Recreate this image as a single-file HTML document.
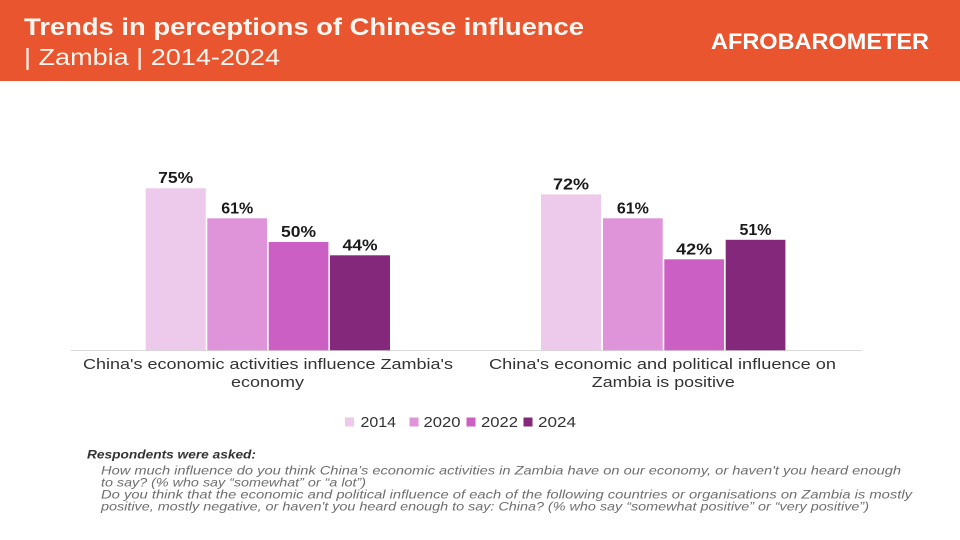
<!DOCTYPE html>
<html>
<head>
<meta charset="utf-8">
<style>
html,body{margin:0;padding:0;background:#fff;}
svg{display:block;}
text{font-family:"Liberation Sans",sans-serif;}
</style>
</head>
<body>
<svg width="960" height="540" viewBox="0 0 960 540" xmlns="http://www.w3.org/2000/svg">
  <rect x="0" y="0" width="960" height="540" fill="#ffffff"/>
  <!-- header -->
  <rect x="0" y="0" width="960" height="81" fill="#E8552E"/>
  <text x="24" y="35" font-size="24" font-weight="bold" fill="#fdf6f0" textLength="560" lengthAdjust="spacingAndGlyphs">Trends in perceptions of Chinese influence</text>
  <text x="24" y="65" font-size="23" fill="#fdf6f0" textLength="256" lengthAdjust="spacingAndGlyphs">| Zambia | 2014-2024</text>
  <text x="711" y="49" font-size="22" font-weight="bold" fill="#ffffff" textLength="218" lengthAdjust="spacingAndGlyphs">AFROBAROMETER</text>

  <!-- axis -->
  <line x1="71" y1="350.5" x2="862" y2="350.5" stroke="#d9d9d9" stroke-width="1"/>

  <!-- left group bars -->
  <rect x="145.7" y="188.3" width="60" height="162" fill="#EDC9EB"/>
  <rect x="207.3" y="218.3" width="59.7" height="132" fill="#DF94D9"/>
  <rect x="268.7" y="242" width="59.7" height="108.3" fill="#CB5FC3"/>
  <rect x="330" y="255.3" width="60" height="95" fill="#83287A"/>

  <!-- right group bars -->
  <rect x="541" y="194.4" width="60" height="155.9" fill="#EDC9EB"/>
  <rect x="603" y="218.3" width="59.7" height="132" fill="#DF94D9"/>
  <rect x="664.3" y="259.3" width="59.7" height="91" fill="#CB5FC3"/>
  <rect x="725.7" y="239.8" width="59.7" height="110.5" fill="#83287A"/>

  <!-- value labels -->
  <g font-size="16" font-weight="bold" fill="#1a1a1a" text-anchor="middle">
    <text x="175.7" y="183" textLength="35" lengthAdjust="spacingAndGlyphs">75%</text>
    <text x="237.2" y="213.3" textLength="32" lengthAdjust="spacingAndGlyphs">61%</text>
    <text x="298.5" y="237" textLength="35" lengthAdjust="spacingAndGlyphs">50%</text>
    <text x="360" y="250.3" textLength="35" lengthAdjust="spacingAndGlyphs">44%</text>
    <text x="571" y="189.4" textLength="36" lengthAdjust="spacingAndGlyphs">72%</text>
    <text x="632.9" y="213.3" textLength="32" lengthAdjust="spacingAndGlyphs">61%</text>
    <text x="694.2" y="254.3" textLength="36" lengthAdjust="spacingAndGlyphs">42%</text>
    <text x="755.5" y="234.8" textLength="32" lengthAdjust="spacingAndGlyphs">51%</text>
  </g>

  <!-- category labels -->
  <g font-size="15" fill="#333333" text-anchor="middle">
    <text x="268" y="369" textLength="370" lengthAdjust="spacingAndGlyphs">China's economic activities influence Zambia's</text>
    <text x="267.5" y="387" textLength="73" lengthAdjust="spacingAndGlyphs">economy</text>
    <text x="662.5" y="369" textLength="347" lengthAdjust="spacingAndGlyphs">China's economic and political influence on</text>
    <text x="663.3" y="387" textLength="143" lengthAdjust="spacingAndGlyphs">Zambia is positive</text>
  </g>

  <!-- legend -->
  <rect x="345" y="417.5" width="9" height="9" fill="#EDC9EB"/>
  <rect x="409.5" y="417.5" width="9" height="9" fill="#DF94D9"/>
  <rect x="466.5" y="417.5" width="9" height="9" fill="#CB5FC3"/>
  <rect x="523.5" y="417.5" width="9" height="9" fill="#83287A"/>
  <g font-size="15" fill="#333333">
    <text x="360.5" y="427" textLength="35.5" lengthAdjust="spacingAndGlyphs">2014</text>
    <text x="423.5" y="427" textLength="37" lengthAdjust="spacingAndGlyphs">2020</text>
    <text x="481" y="427" textLength="37" lengthAdjust="spacingAndGlyphs">2022</text>
    <text x="538" y="427" textLength="38" lengthAdjust="spacingAndGlyphs">2024</text>
  </g>

  <!-- footnote -->
  <text x="87" y="458.5" font-size="12" font-weight="bold" font-style="italic" fill="#333333" textLength="169" lengthAdjust="spacingAndGlyphs">Respondents were asked:</text>
  <g font-size="12" font-style="italic" fill="#6e6e6e">
    <text x="101" y="474.5" textLength="800" lengthAdjust="spacingAndGlyphs">How much influence do you think China’s economic activities in Zambia have on our economy, or haven't you heard enough</text>
    <text x="101" y="486.5" textLength="265" lengthAdjust="spacingAndGlyphs">to say? (% who say “somewhat” or “a lot”)</text>
    <text x="101" y="498.5" textLength="811" lengthAdjust="spacingAndGlyphs">Do you think that the economic and political influence of each of the following countries or organisations on Zambia is mostly</text>
    <text x="101" y="510.5" textLength="768" lengthAdjust="spacingAndGlyphs">positive, mostly negative, or haven't you heard enough to say: China? (% who say “somewhat positive” or “very positive”)</text>
  </g>
</svg>
</body>
</html>
